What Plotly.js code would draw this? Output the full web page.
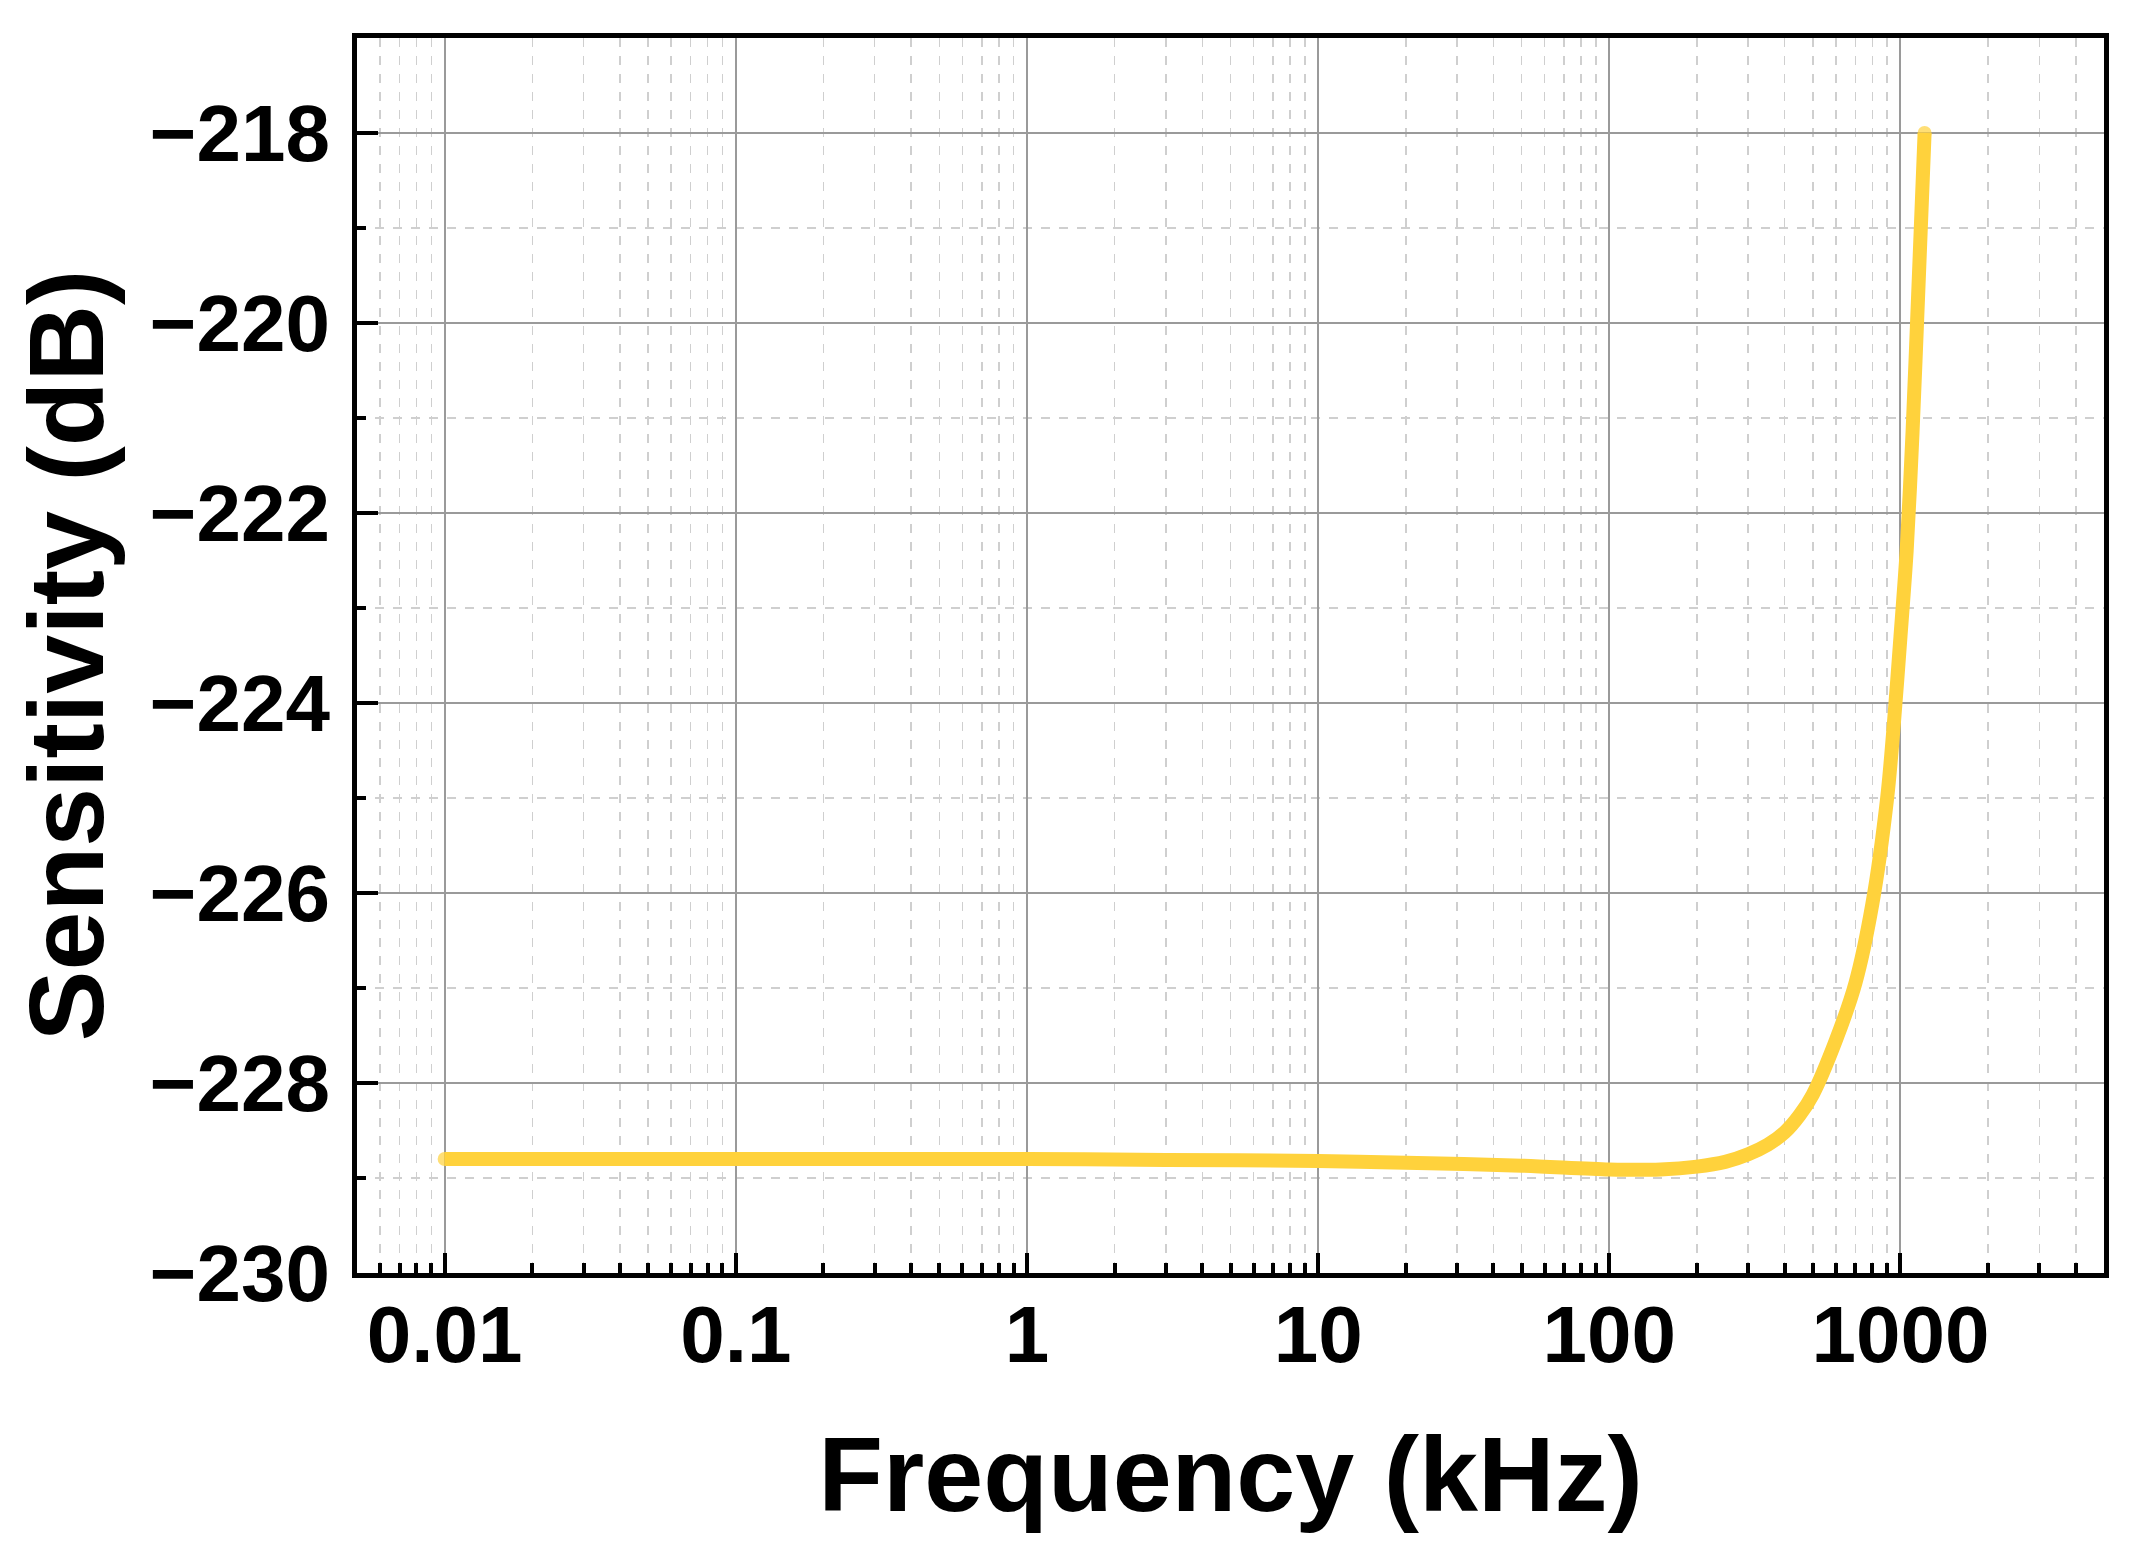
<!DOCTYPE html>
<html>
<head>
<meta charset="utf-8">
<script src="https://cdn.plot.ly/plotly-3.0.1.min.js"></script>
<style>
  html, body { margin: 0; padding: 0; background: #fff; }
  #chart { width: 2153px; height: 1560px; }
</style>
</head>
<body>
<div id="chart"></div>
<script>
// frequency in kHz, sensitivity in dB
const freqKHz = [0.01, 0.1, 1, 3, 10, 20, 50, 100, 150, 200, 250, 300, 350, 400, 450, 500,
                 600, 700, 800, 900, 950, 1000, 1050, 1100, 1150, 1210];
const sensDB  = [-228.80, -228.80, -228.80, -228.81, -228.82, -228.84, -228.87, -228.91,
                 -228.91, -228.88, -228.83, -228.75, -228.65, -228.52, -228.34, -228.12,
                 -227.55, -226.95, -226.12, -225.0, -224.2, -223.3, -222.4, -221.15,
                 -219.7, -218.0];

const xTickVals = [0.01, 0.1, 1, 10, 100, 1000];
const xTickText = ["0.01", "0.1", "1", "10", "100", "1000"];

const lineColor = "#FFD23C";
const font = { family: "Liberation Sans, Arial, sans-serif", color: "#000", weight: 700 };

// round caps at both ends of the curve
const capSizes = freqKHz.map((_, i) => (i === 0 || i === freqKHz.length - 1) ? 14 : 0);

Plotly.newPlot("chart", [{
  x: freqKHz, y: sensDB, mode: "lines+markers", name: "Sensitivity",
  line: { color: lineColor, width: 14, shape: "spline", smoothing: 0.8 },
  marker: { color: lineColor, size: capSizes, line: { width: 0 } },
  hoverinfo: "x+y",
}], {
  width: 2153, height: 1560,
  margin: { l: 357, r: 49, t: 38, b: 287 },
  paper_bgcolor: "#fff", plot_bgcolor: "#fff",
  showlegend: false,
  font: font,
  xaxis: {
    type: "log",
    range: [Math.log10(0.005), Math.log10(5000)],
    tickvals: xTickVals, ticktext: xTickText,
    ticks: "inside", ticklen: 20, tickwidth: 4, tickcolor: "#000",
    tickfont: { ...font, size: 80 },
    ticklabelstandoff: -12,
    showline: true, linewidth: 5, linecolor: "#000", mirror: true,
    showgrid: true, gridcolor: "#9a9a9a", gridwidth: 2,
    zeroline: false,
    minor: {
      dtick: "D1", ticks: "inside", ticklen: 10, tickwidth: 4, tickcolor: "#000",
      showgrid: true, gridcolor: "#cfcfcf", gridwidth: 1.5, griddash: "dash",
    },
    title: { text: "Frequency (kHz)", font: { ...font, size: 106 }, standoff: 60 },
  },
  yaxis: {
    range: [-230, -217],
    tick0: -230, dtick: 2,
    ticks: "inside", ticklen: 21, tickwidth: 4, tickcolor: "#000",
    tickfont: { ...font, size: 80 },
    ticklabelstandoff: 6,
    showline: true, linewidth: 5, linecolor: "#000", mirror: true,
    showgrid: true, gridcolor: "#9a9a9a", gridwidth: 2,
    zeroline: false,
    minor: {
      dtick: 1, ticks: "inside", ticklen: 9, tickwidth: 4, tickcolor: "#000",
      showgrid: true, gridcolor: "#cfcfcf", gridwidth: 1.5, griddash: "dash",
    },
    title: { text: "Sensitivity (dB)", font: { ...font, size: 106 }, standoff: 12 },
  },
}, { displayModeBar: false, staticPlot: true });
</script>
</body>
</html>
